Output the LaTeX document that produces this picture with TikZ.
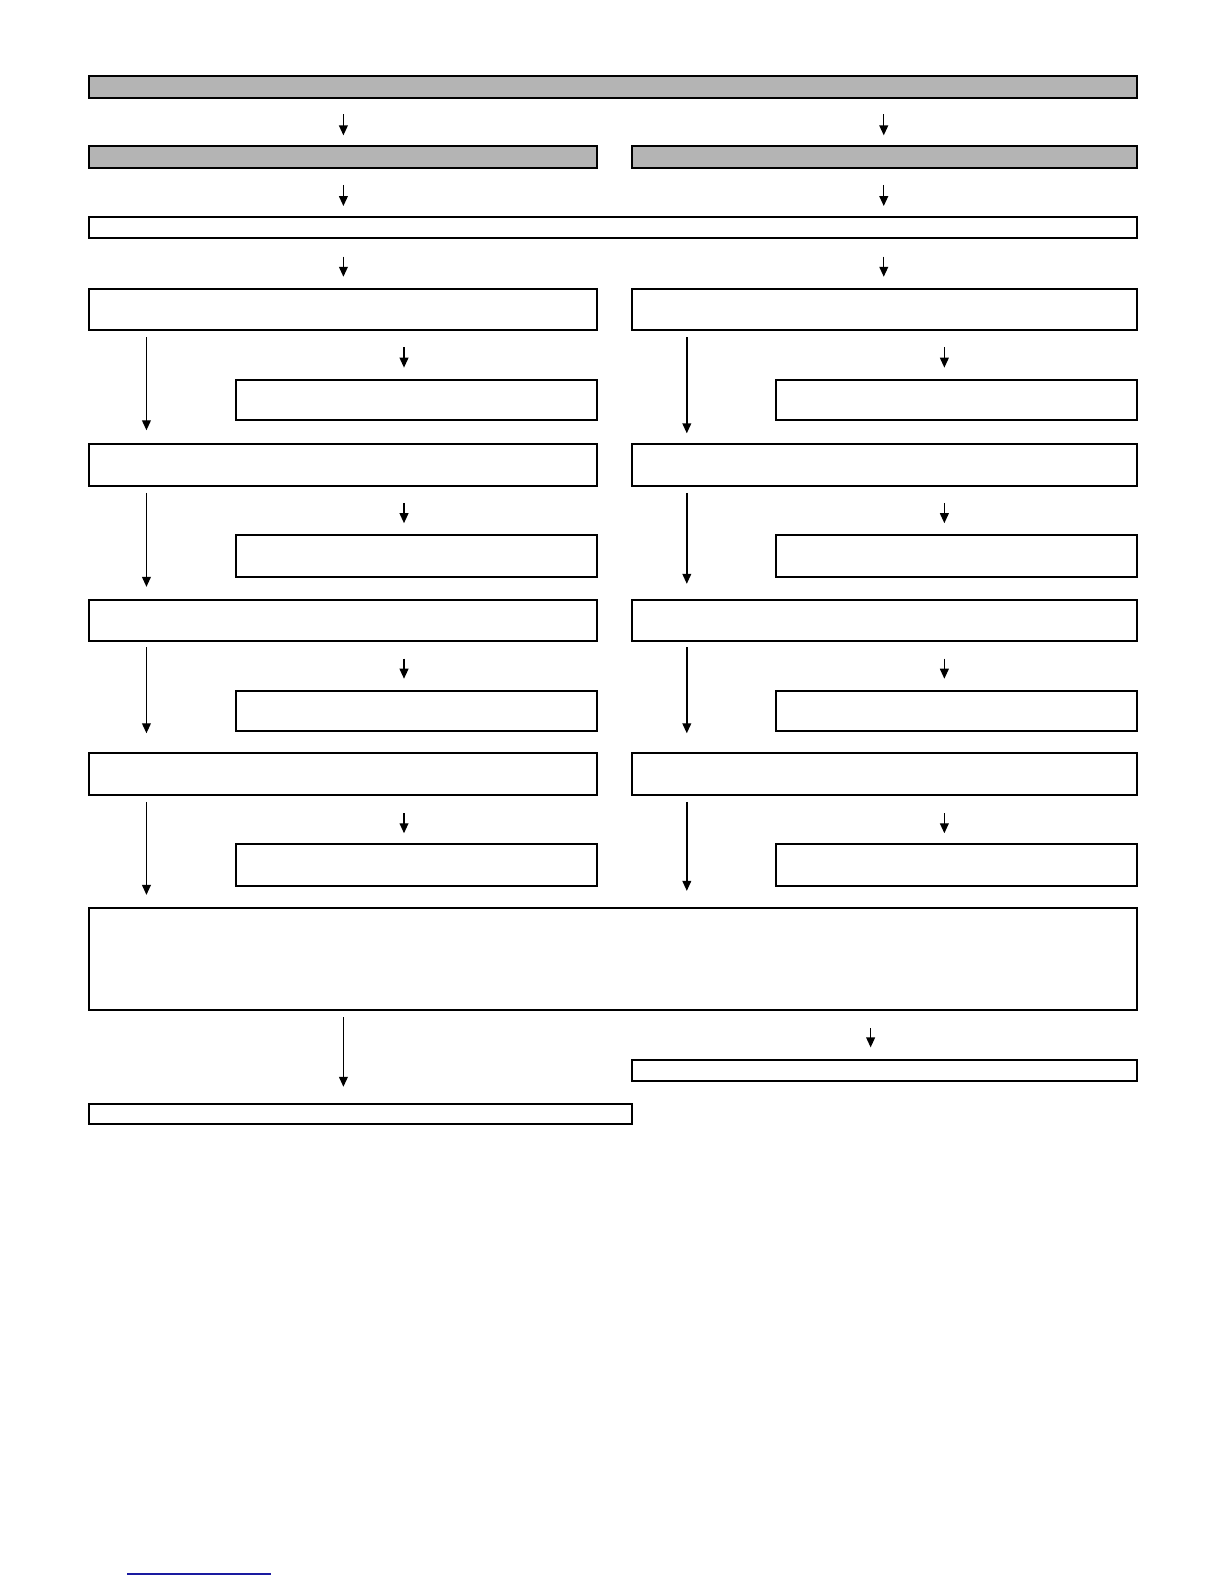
\documentclass[tikz,border=0pt]{standalone}
\usetikzlibrary{arrows.meta,fit}
\newdimen\pxunit \pxunit=0.505pt
\definecolor{boxgray}{RGB}{180,180,180}
\definecolor{linkblue}{RGB}{26,26,160}
\tikzset{
  box/.style={draw=black, line width=1pt, inner sep=0pt, rectangle},
  graybox/.style={box, fill=boxgray},
  arr/.style={draw=black, line width=0.7pt, -{Triangle[width=4.4pt,length=5pt]}},
}
\begin{document}
\begin{tikzpicture}[x=0.505pt, y=-0.505pt]
\useasboundingbox (0,0) rectangle (1211.9,1568.3);
% x positions
\coordinate (xa) at (340,0);
\coordinate (xb) at (875,0);
\coordinate (xl) at (145,0);
\coordinate (xr) at (680,0);
\coordinate (xsl) at (400,0);
\coordinate (xsr) at (935,0);
\coordinate (xbr) at (862,0);
% boxes
\node[graybox, fit={(88,75)(1126,97)}] (T) {};
\node[graybox, fit={(88,145)(591,166)}] (L1) {};
\node[graybox, fit={(626,145)(1126,166)}] (R1) {};
\node[box, fit={(88,215)(1126,236)}] (W) {};
\node[box, fit={(88,286)(591,327)}] (AL) {};
\node[box, fit={(626,286)(1126,327)}] (AR) {};
\node[box, fit={(234,376)(591,416)}] (SAL) {};
\node[box, fit={(768,376)(1126,416)}] (SAR) {};
\node[box, fit={(88,440)(591,481)}] (BL) {};
\node[box, fit={(626,440)(1126,481)}] (BR) {};
\node[box, fit={(234,530)(591,571)}] (SBL) {};
\node[box, fit={(768,530)(1126,571)}] (SBR) {};
\node[box, fit={(88,594)(591,635)}] (CL) {};
\node[box, fit={(626,594)(1126,635)}] (CR) {};
\node[box, fit={(234,684)(591,724)}] (SCL) {};
\node[box, fit={(768,684)(1126,724)}] (SCR) {};
\node[box, fit={(88,746)(591,787)}] (DL) {};
\node[box, fit={(626,746)(1126,787)}] (DR) {};
\node[box, fit={(234,836)(591,877)}] (SDL) {};
\node[box, fit={(768,836)(1126,877)}] (SDR) {};
\node[box, fit={(88,899)(1126,1000)}] (BIG) {};
\node[box, fit={(88,1093)(626,1113)}] (OUTL) {};
\node[box, fit={(626,1049)(1126,1070)}] (OUTR) {};
% top arrows
\draw[arr, shorten <=15\pxunit, shorten >=10\pxunit] (T.south -| xa) -- (L1.north -| xa);
\draw[arr, shorten <=15\pxunit, shorten >=10\pxunit] (T.south -| xb) -- (R1.north -| xb);
\draw[arr, shorten <=16\pxunit, shorten >=10\pxunit] (L1.south -| xa) -- (W.north -| xa);
\draw[arr, shorten <=16\pxunit, shorten >=10\pxunit] (R1.south -| xb) -- (W.north -| xb);
\draw[arr, shorten <=17\pxunit, shorten >=11\pxunit] (W.south -| xa) -- (AL.north -| xa);
\draw[arr, shorten <=17\pxunit, shorten >=11\pxunit] (W.south -| xb) -- (AR.north -| xb);
% long arrows
\draw[arr, shorten <=6\pxunit, shorten >=13\pxunit] (AL.south -| xl) -- (BL.north -| xl);
\draw[arr, shorten <=6\pxunit, shorten >=10\pxunit] (AR.south -| xr) -- (BR.north -| xr);
\draw[arr, shorten <=6\pxunit, shorten >=12\pxunit] (BL.south -| xl) -- (CL.north -| xl);
\draw[arr, shorten <=6\pxunit, shorten >=15\pxunit] (BR.south -| xr) -- (CR.north -| xr);
\draw[arr, shorten <=5\pxunit, shorten >=19\pxunit] (CL.south -| xl) -- (DL.north -| xl);
\draw[arr, shorten <=5\pxunit, shorten >=19\pxunit] (CR.south -| xr) -- (DR.north -| xr);
\draw[arr, shorten <=6\pxunit, shorten >=12\pxunit] (DL.south -| xl) -- (BIG.north -| xl);
\draw[arr, shorten <=6\pxunit, shorten >=16\pxunit] (DR.south -| xr) -- (BIG.north -| xr);
% short arrows
\draw[arr, shorten <=16\pxunit, shorten >=11\pxunit] (AL.south -| xsl) -- (SAL.north -| xsl);
\draw[arr, shorten <=16\pxunit, shorten >=11\pxunit] (AR.south -| xsr) -- (SAR.north -| xsr);
\draw[arr, shorten <=16\pxunit, shorten >=11\pxunit] (BL.south -| xsl) -- (SBL.north -| xsl);
\draw[arr, shorten <=16\pxunit, shorten >=11\pxunit] (BR.south -| xsr) -- (SBR.north -| xsr);
\draw[arr, shorten <=16\pxunit, shorten >=11\pxunit] (CL.south -| xsl) -- (SCL.north -| xsl);
\draw[arr, shorten <=16\pxunit, shorten >=11\pxunit] (CR.south -| xsr) -- (SCR.north -| xsr);
\draw[arr, shorten <=17\pxunit, shorten >=10\pxunit] (DL.south -| xsl) -- (SDL.north -| xsl);
\draw[arr, shorten <=17\pxunit, shorten >=10\pxunit] (DR.south -| xsr) -- (SDR.north -| xsr);
% bottom arrows
\draw[arr, shorten <=6\pxunit, shorten >=16\pxunit] (BIG.south -| xa) -- (OUTL.north -| xa);
\draw[arr, shorten <=17\pxunit, shorten >=11\pxunit] (BIG.south -| xbr) -- (OUTR.north -| xbr);
% blue rule at the foot
\draw[linkblue, line width=1pt] (126,1558) -- (268,1558);
\end{tikzpicture}
\end{document}
